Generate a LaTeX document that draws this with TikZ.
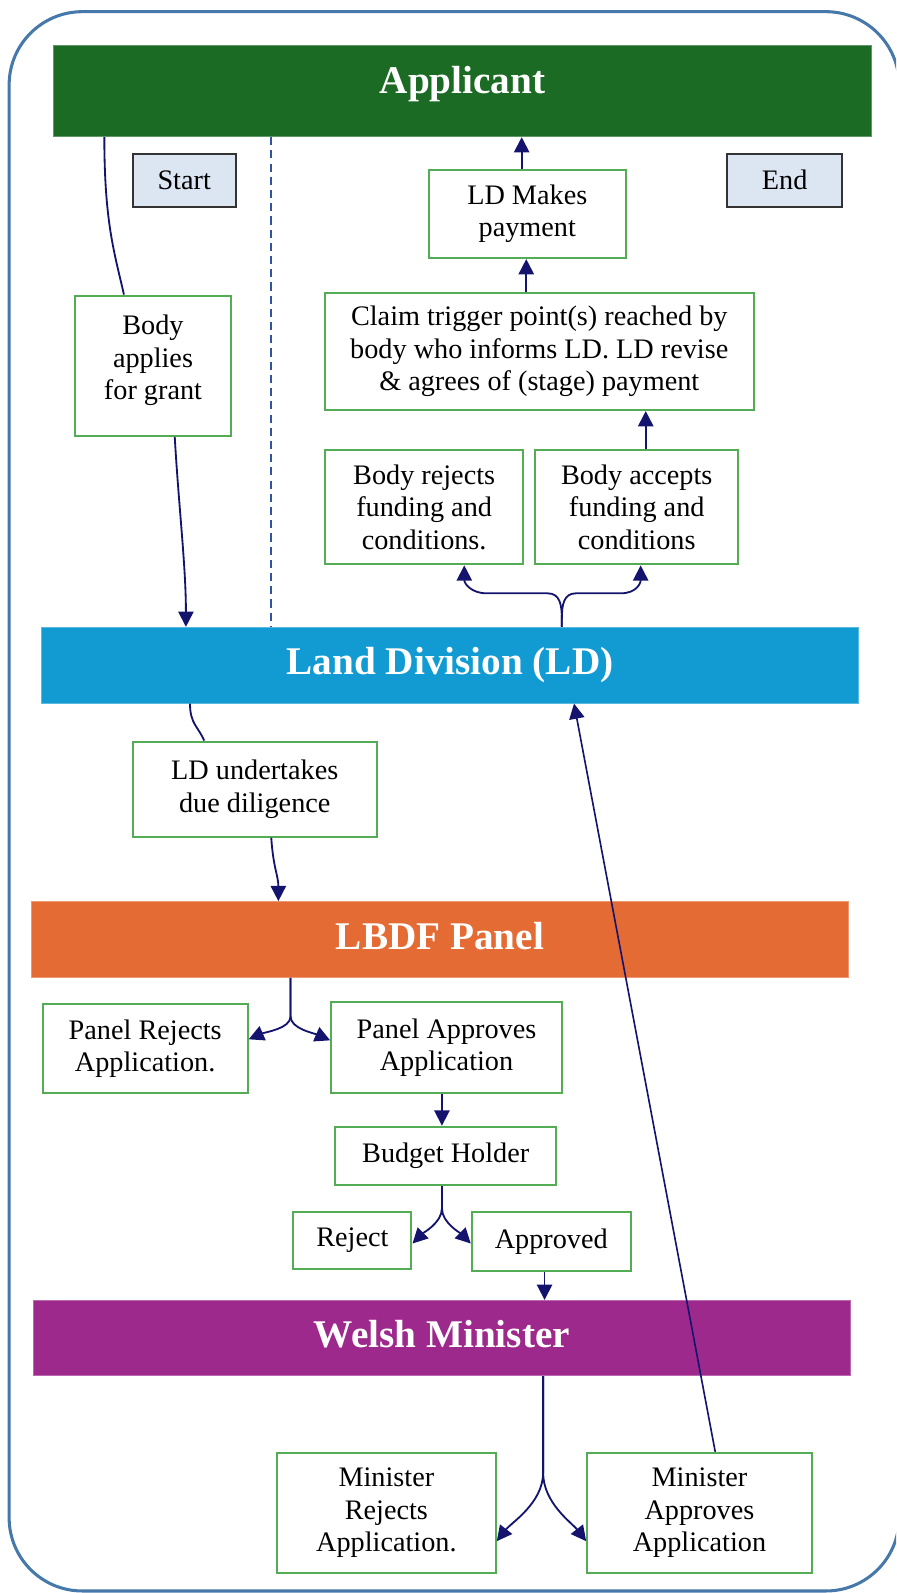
\documentclass[tikz,border=0pt]{standalone}
\usepackage{fontspec}
\setmainfont{Liberation Serif}
\usetikzlibrary{arrows.meta}

\definecolor{applicantgreen}{RGB}{28,107,36}
\definecolor{ldblue}{RGB}{18,155,210}
\definecolor{panelorange}{RGB}{228,108,52}
\definecolor{ministerpurple}{RGB}{158,41,140}
\definecolor{boxgreen}{RGB}{84,172,84}
\definecolor{linknavy}{RGB}{20,20,110}
\definecolor{framesteel}{RGB}{70,120,170}
\definecolor{startfill}{RGB}{220,230,242}
\definecolor{dashblue}{RGB}{45,85,160}

\newcommand\stepfont{\fontsize{13.9}{16}\selectfont}
\newcommand\bandfont{\fontsize{19.3}{22}\selectfont\bfseries}

\tikzset{
  band/.style={fill=#1,draw=#1!70!white,line width=0.5pt,inner sep=0pt,text=white,font=\bandfont,text height=13pt,text depth=3.5pt,minimum width=402pt},
  stepbox/.style={draw=boxgreen,line width=1pt,fill=white,inner sep=0pt,align=center,font=\stepfont},
  terminal/.style={draw=black!80,fill=startfill,line width=1pt,inner sep=0pt,font=\stepfont,minimum height=25.9pt},
  link/.style={draw=linknavy,line width=0.9pt},
  flow/.style={link,-{Triangle[length=7.5pt,width=7.5pt]}}
}

\begin{document}
\begin{tikzpicture}[x=0.5pt,y=-0.5pt]
% Frame
\useasboundingbox (0,0) rectangle (882,1568);
\begin{scope}
\clip (0,0) rectangle (882,1568);
\draw[framesteel,line width=1.5pt,rounded corners=36pt] (9,11.5) rectangle (885,1566);
\end{scope}
% Bands
\node[band=applicantgreen,minimum width=402.25pt,minimum height=45pt,text depth=10pt] (applicant) at (455.25,89.5) {Applicant};
\node[band=ldblue,minimum height=37.25pt] (ld) at (443,654.75) {Land Division (LD)};
\node[band=panelorange,minimum height=37.25pt] (panel) at (433,924.75) {LBDF Panel};
\node[band=ministerpurple,minimum height=37pt] (minister) at (435,1317) {Welsh Minister};
% Boxes
\node[terminal,minimum width=50.7pt] (start) at (181.3,177.5) {Start};
\node[terminal,minimum width=56.7pt] (finish) at (772.3,177.5) {End};
\node[stepbox,minimum width=77.1pt,minimum height=69pt] (apply) at (150.6,360) {};
\node[align=center,font=\stepfont,inner sep=0pt] (apply-text) at (150.6,355) {Body\\applies\\for grant};
\node[stepbox,minimum width=97pt,minimum height=43.5pt] (payment) at (519,210.5) {LD Makes\\payment};
\node[stepbox,minimum width=211.2pt,minimum height=57.8pt] (claim) at (530.8,345.8) {Claim trigger point(s) reached by\\body who informs LD. LD revise\\\& agrees of (stage) payment};
\node[stepbox,minimum width=97.5pt,minimum height=56.25pt] (rejectfund) at (417.5,499.25) {Body rejects\\funding and\\conditions.};
\node[stepbox,minimum width=100.1pt,minimum height=56.25pt] (acceptfund) at (626.7,499.25) {Body accepts\\funding and\\conditions};
\node[stepbox,minimum width=120.25pt,minimum height=46.8pt] (diligence) at (250.75,776.8) {LD undertakes\\due diligence};
\node[stepbox,minimum width=100.9pt,minimum height=43.5pt] (panelreject) at (142.9,1032.1) {Panel Rejects\\Application.};
\node[stepbox,minimum width=113.5pt,minimum height=44.5pt] (panelapprove) at (439.5,1031.1) {Panel Approves\\Application};
\node[stepbox,minimum width=108.7pt,minimum height=28.75pt] (budget) at (438.7,1137.75) {Budget Holder};
\node[stepbox,minimum width=58.1pt,minimum height=28pt] (reject) at (346.9,1221) {Reject};
\node[stepbox,minimum width=78.2pt,minimum height=28.9pt] (approved) at (542.6,1221.9) {Approved};
\node[stepbox,minimum width=107.7pt,minimum height=59pt] (ministerreject) at (380.3,1489) {Minister\\Rejects\\Application.};
\node[stepbox,minimum width=110.5pt,minimum height=59pt] (ministerapprove) at (688.5,1489) {Minister\\Approves\\Application};
% Connectors
\draw[link] (applicant.south -| 102.7,0) .. controls +(0,85) and +(-9,-40) .. (apply.north -| 122,0);
\draw[flow] (apply.south -| 172,0) .. controls +(4,70) and +(0,-60) .. (ld.north -| 183,0);
\draw[dashblue,line width=1pt,dash pattern=on 4pt off 2.5pt] (applicant.south -| 266.8,0) -- (ld.north -| 266.8,0);
\draw[flow] (payment.north -| 513.5,0) -- (applicant.south -| 513.5,0);
\draw[flow] (claim.north -| 518,0) -- (payment.south -| 518,0);
\draw[flow] (acceptfund.north -| 635.6,0) -- (claim.south -| 635.6,0);
\draw[flow] (ld.north -| 553,0) -- ++(0,-8) .. controls +(0,-14) and +(12,0) .. ++(-14,-25) -- ++(-60,0) .. controls +(-15,0) and +(0,18) .. (rejectfund.south -| 457,0);
\draw[flow] (ld.north -| 553,0) -- ++(0,-8) .. controls +(0,-14) and +(-12,0) .. ++(14,-25) -- ++(44,0) .. controls +(15,0) and +(0,18) .. (acceptfund.south -| 630.6,0);
\draw[link] (ld.south -| 187,0) .. controls +(0,20) and +(-6,-14) .. (diligence.north -| 201,0);
\draw[flow] (diligence.south -| 267,0) .. controls +(2,30) and +(0,-25) .. (panel.north -| 274,0);
\draw[flow] (panel.south -| 286,0) -- ++(0,38) .. controls +(0,12) and +(16,-7) .. (panelreject.east |- 0,1023);
\draw[flow] (panel.south -| 286,0) -- ++(0,38) .. controls +(0,12) and +(-16,-7) .. (panelapprove.west |- 0,1024);
\draw[flow] (panelapprove.south -| 435,0) -- (budget.north -| 435,0);
\draw[flow] (budget.south -| 435,0) -- ++(0,22) .. controls +(0,14) and +(10,-10) .. (reject.east |- 0,1224);
\draw[flow] (budget.south -| 435,0) -- ++(0,22) .. controls +(0,14) and +(-10,-10) .. (approved.west |- 0,1224);
\draw[flow] (approved.south -| 536,0) -- (minister.north -| 536,0);
\draw[flow] (minister.south -| 534.6,0) -- ++(0,95) .. controls +(0,30) and +(14,-18) .. (ministerreject.east |- 0,1517);
\draw[flow] (minister.south -| 534.6,0) -- ++(0,95) .. controls +(0,30) and +(-14,-18) .. (ministerapprove.west |- 0,1517);
\draw[flow,line width=0.8pt] (ministerapprove.north -| 704,0) -- (ld.south -| 565,0);
\end{tikzpicture}
\end{document}
